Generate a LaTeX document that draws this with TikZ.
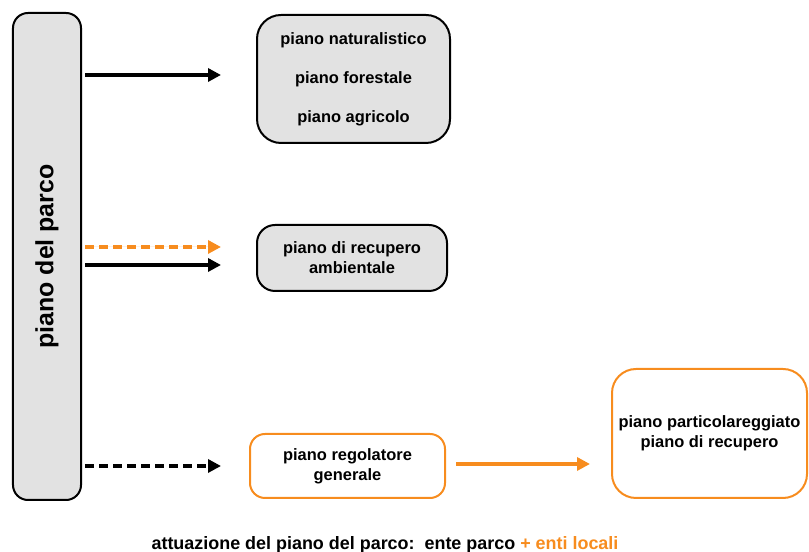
\documentclass[tikz,border=0pt]{standalone}
\usepackage{fontspec}
\setmainfont{Liberation Sans}
\usetikzlibrary{arrows.meta}

\definecolor{parkorange}{RGB}{247,140,30}
\definecolor{parkgray}{RGB}{226,226,226}

\begin{document}
\begin{tikzpicture}[x=1bp,y=1bp,
						plan/.style={draw,line width=2bp,rounded corners=22bp,
						align=center,font=\fontsize{16.5}{20}\selectfont\bfseries},
						grayplan/.style={plan,fill=parkgray},
						orangeplan/.style={plan,draw=parkorange},
						arrow/.style={line width=3.5bp,-{Triangle[length=13bp,width=13bp]}},
						dasharrow/.style={arrow,dash pattern=on 9bp off 5bp}]

		\useasboundingbox (0,0) rectangle (809,552);

		\node[draw, line width=2bp, fill=parkgray, rounded corners=15bp,
			minimum width=68bp, minimum height=487bp, inner sep=0pt,
			font=\fontsize{25}{30}\selectfont\bfseries] (parco) at (47,295.5) {\rotatebox{90}{piano del parco}};

		\node[grayplan, minimum width=193bp, minimum height=128bp, rounded corners=24bp] (naturalistico) at (353.5,473) {piano naturalistico\\[19bp]piano forestale\\[19bp]piano agricolo};
		\node[grayplan, minimum width=190bp, minimum height=66bp, rounded corners=18bp] (recupero) at (352,294) {piano di recupero\\ambientale};
		\node[orangeplan, minimum width=195bp, minimum height=64bp, rounded corners=15bp] (regolatore) at (347.5,86) {piano regolatore\\generale};
		\node[orangeplan, minimum width=195bp, minimum height=129bp, rounded corners=24bp] (particolareggiato) at (709.5,118.5) {piano particolareggiato\\piano di recupero};

		\node[font=\fontsize{18}{22}\selectfont\bfseries] (attuazione) at (385,7) {attuazione del piano del parco:\ \ ente parco \textcolor{parkorange}{+ enti locali}};

		\draw[arrow] ([xshift=3bp,yshift=4bp]parco.east |- naturalistico.west) -- ([xshift=-35bp,yshift=4bp]naturalistico.west);
		\draw[dasharrow, draw=parkorange, fill=parkorange] ([xshift=3bp,yshift=11bp]parco.east |- recupero.west) -- ([xshift=-35bp,yshift=11bp]recupero.west);
		\draw[arrow] ([xshift=3bp,yshift=-7bp]parco.east |- recupero.west) -- ([xshift=-35bp,yshift=-7bp]recupero.west);
		\draw[dasharrow] ([xshift=3bp]parco.east |- regolatore.west) -- ([xshift=-28bp]regolatore.west);
		\draw[arrow, draw=parkorange, fill=parkorange] ([xshift=10bp,yshift=2bp]regolatore.east) -- ([xshift=-21bp,yshift=2bp]particolareggiato.west |- regolatore.east);

	\end{tikzpicture}
\end{document}
